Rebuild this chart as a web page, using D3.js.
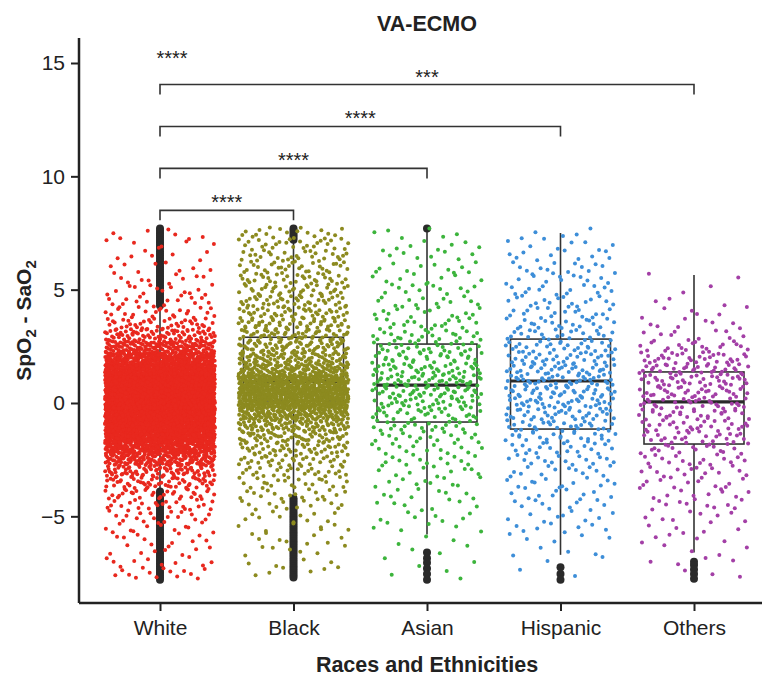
<!DOCTYPE html>
<html>
<head>
<meta charset="utf-8">
<script src="https://d3js.org/d3.v7.min.js"></script>
<style>
  body { margin: 0; background: #fff; }
  svg { font-family: "Liberation Sans", Arial, sans-serif; }
</style>
</head>
<body>
<div id="chart"></div>
<script>
// --- data ---
const categories = ['White', 'Black', 'Asian', 'Hispanic', 'Others'];
const colors = ['#e8281e', '#8c8a1f', '#3cb43c', '#3d8ed8', '#a33fa6'];

// box statistics
const q1 = [-0.84, 0.09, -0.84, -1.15, -1.81];
const medians = [0.6, 0.95, 0.79, 0.97, 0.05];
const q3 = [1.13, 2.9, 2.6, 2.82, 1.37];
const whiskerLow = [-3.8, -4.0, -5.8, -6.7, -6.6];
const whiskerHigh = [4.1, 7.1, 7.55, 7.5, 5.65];

// outliers (black dots on the box centre line)
const outliersWhite = [4.3, 4.4, 4.5, 4.6, 4.7, 4.8, 4.9, 5.0, 5.1, 5.2, 5.3, 5.4, 5.5, 5.6, 5.7, 5.8, 5.9, 6.0,
  6.1, 6.2, 6.3, 6.4, 6.5, 6.6, 6.7, 6.8, 6.9, 7.0, 7.1, 7.2, 7.3, 7.4, 7.5, 7.6, 7.7,
  -3.9, -4.0, -4.1, -4.2, -4.3, -4.4, -4.5, -4.6, -4.7, -4.8, -4.9, -5.0, -5.1, -5.2, -5.3, -5.4, -5.5,
  -5.6, -5.7, -5.8, -5.9, -6.0, -6.1, -6.2, -6.3, -6.4, -6.5, -6.6, -6.7, -6.8, -6.9, -7.0, -7.1,
  -7.2, -7.3, -7.4, -7.5, -7.6, -7.7, -7.8];
const outliersBlack = [7.2, 7.3, 7.4, 7.5, 7.6, 7.7,
  -4.2, -4.3, -4.4, -4.5, -4.6, -4.7, -4.8, -4.9, -5.0, -5.1, -5.2, -5.3, -5.4, -5.5, -5.6, -5.7,
  -5.8, -5.9, -6.0, -6.1, -6.2, -6.3, -6.4, -6.5, -6.6, -6.7, -6.8, -6.9, -7.0, -7.1, -7.2, -7.3,
  -7.4, -7.5, -7.6, -7.7];
const outliersAsian = [7.7, -6.6, -6.85, -7.05, -7.3, -7.55, -7.8];
const outliersHispanic = [-7.25, -7.55, -7.8];
const outliersOthers = [-7.0, -7.15, -7.35, -7.55, -7.75];
const outliers = [outliersWhite, outliersBlack, outliersAsian, outliersHispanic, outliersOthers];

// individual measurements, counted per 0.5-wide bin (bin centres below)
const binCenters = [-7.5, -7, -6.5, -6, -5.5, -5, -4.5, -4, -3.5, -3, -2.5, -2, -1.5, -1, -0.5,
  0, 0.5, 1, 1.5, 2, 2.5, 3, 3.5, 4, 4.5, 5, 5.5, 6, 6.5, 7, 7.5];
const countsWhite = [14, 10, 9, 10, 13, 18, 24, 34, 55, 85, 140, 220, 300, 360, 400,
  420, 420, 380, 300, 220, 130, 75, 40, 24, 16, 14, 10, 8, 7, 7, 6];
const countsBlack = [5, 5, 7, 8, 9, 10, 14, 18, 22, 28, 35, 45, 60, 90, 140,
  240, 260, 210, 120, 85, 68, 58, 50, 44, 40, 36, 33, 30, 28, 25, 20];
const countsAsian = [3, 3, 3, 3, 6, 7, 8, 9, 10, 11, 13, 15, 18, 22, 28,
  35, 42, 45, 38, 32, 28, 22, 18, 15, 12, 12, 10, 10, 8, 7, 6];
const countsHispanic = [2, 2, 4, 5, 8, 9, 10, 11, 12, 14, 16, 20, 24, 28, 32,
  36, 38, 38, 36, 32, 28, 24, 20, 18, 16, 14, 14, 12, 10, 8, 5];
const countsOthers = [3, 4, 4, 5, 6, 8, 10, 11, 12, 14, 16, 20, 24, 26, 28,
  30, 32, 35, 35, 30, 20, 10, 8, 6, 3, 2, 2, 0, 0, 0, 0];
const counts = [countsWhite, countsBlack, countsAsian, countsHispanic, countsOthers];

// significance brackets
const comparisons = [
  { from: 'White', to: 'Black', label: '****', level: 8.5 },
  { from: 'White', to: 'Asian', label: '****', level: 10.35 },
  { from: 'White', to: 'Hispanic', label: '****', level: 12.2 },
  { from: 'White', to: 'Others', label: '***', level: 14.05 }
];
const extraLabel = { at: 'White', label: '****', level: 15.35 };

const yTicks = [-5, 0, 5, 10, 15];

// --- layout ---
const W = 762, H = 678;
const axisX = 79, axisTop = 38, axisBottom = 603;

const svg = d3.select('#chart').append('svg')
  .attr('width', W).attr('height', H);

const x = d3.scalePoint().domain(categories).range([160, 694]);
const y = d3.scaleLinear().domain([-8.824, 16.103]).range([axisBottom, axisTop]);

const boxHalf = 50, jitterHalf = 55, binHalf = 0.25;

// radical inverse, used to spread the strip-plot jitter evenly (Halton 2/3)
function radInv(n, base) {
  let f = 1, r = 0;
  while (n > 0) { f /= base; r += f * (n % base); n = Math.floor(n / base); }
  return r;
}

// --- boxes ---
const boxG = svg.append('g');
categories.forEach((c, i) => {
  const cx = x(c);
  const g = boxG.append('g');
  g.append('line').attr('x1', cx).attr('x2', cx)
    .attr('y1', y(q3[i])).attr('y2', y(whiskerHigh[i]))
    .attr('stroke', '#333').attr('stroke-width', 1.6);
  g.append('line').attr('x1', cx).attr('x2', cx)
    .attr('y1', y(q1[i])).attr('y2', y(whiskerLow[i]))
    .attr('stroke', '#333').attr('stroke-width', 1.6);
  g.append('rect')
    .attr('x', cx - boxHalf).attr('width', boxHalf * 2)
    .attr('y', y(q3[i])).attr('height', y(q1[i]) - y(q3[i]))
    .attr('fill', 'none').attr('stroke', '#333').attr('stroke-width', 1.6);
  g.append('line').attr('x1', cx - boxHalf).attr('x2', cx + boxHalf)
    .attr('y1', y(medians[i])).attr('y2', y(medians[i]))
    .attr('stroke', '#2a2a2a').attr('stroke-width', 3.2);
  g.selectAll('circle.outlier').data(outliers[i]).enter()
    .append('circle').attr('class', 'outlier')
    .attr('cx', cx).attr('cy', d => y(d)).attr('r', 4)
    .attr('fill', '#2a2a2a');
});

// --- jittered points ---
const ptsG = svg.append('g');
categories.forEach((c, i) => {
  const pts = [];
  let k = 17 + i * 977;
  counts[i].forEach((n, b) => {
    for (let j = 0; j < n; j++, k++) {
      const u = radInv(k, 2);
      const v = radInv(k, 3);
      pts.push({ dx: (u * 2 - 1) * jitterHalf, val: binCenters[b] + (v - 0.5) * 2 * binHalf });
    }
  });
  ptsG.append('g').selectAll('circle').data(pts).enter()
    .append('circle')
    .attr('cx', d => x(c) + d.dx)
    .attr('cy', d => y(d.val))
    .attr('r', 2)
    .attr('fill', colors[i]);
});

// --- axes ---
const yAxis = svg.append('g')
  .attr('transform', `translate(${axisX},0)`)
  .call(d3.axisLeft(y).tickValues(yTicks).tickSize(8).tickPadding(6)
    .tickFormat(d => d < 0 ? '\u2212' + Math.abs(d) : d));
yAxis.select('.domain').attr('d', `M0,${axisTop}V${axisBottom}`);

const xAxis = svg.append('g')
  .attr('transform', `translate(0,${axisBottom})`)
  .call(d3.axisBottom(x).tickSize(8).tickPadding(9));
xAxis.select('.domain').attr('d', `M${axisX},0H${W}`);

[yAxis, xAxis].forEach(a => {
  a.select('.domain').attr('stroke', '#222').attr('stroke-width', 2.5);
  a.selectAll('.tick line').attr('stroke', '#222').attr('stroke-width', 2);
  a.selectAll('.tick text').attr('fill', '#222')
    .style('font-size', '21px').style('font-family', '"Liberation Sans", Arial, sans-serif');
});

// --- significance brackets ---
const brG = svg.append('g');
const legPx = 10;
comparisons.forEach(cmp => {
  const x1 = x(cmp.from), x2 = x(cmp.to), yy = y(cmp.level);
  brG.append('path')
    .attr('d', `M${x1},${yy + legPx}V${yy}H${x2}V${yy + legPx}`)
    .attr('fill', 'none').attr('stroke', '#333').attr('stroke-width', 1.6);
  brG.append('text')
    .attr('x', (x1 + x2) / 2).attr('y', yy - 1)
    .attr('text-anchor', 'middle')
    .style('font-size', '20px').attr('fill', '#222')
    .text(cmp.label);
});
brG.append('text')
  .attr('x', x(extraLabel.at) + 12).attr('y', y(extraLabel.level) + 10)
  .attr('text-anchor', 'middle')
  .style('font-size', '20px').attr('fill', '#222')
  .text(extraLabel.label);

// --- titles ---
svg.append('text')
  .attr('x', x('Asian')).attr('y', 31)
  .attr('text-anchor', 'middle')
  .style('font-size', '21.5px').style('font-weight', 'bold').attr('fill', '#222')
  .text('VA-ECMO');

svg.append('text')
  .attr('x', x('Asian')).attr('y', 672)
  .attr('text-anchor', 'middle')
  .style('font-size', '21.5px').style('font-weight', 'bold').attr('fill', '#222')
  .text('Races and Ethnicities');

const yl = svg.append('text')
  .attr('transform', `translate(31,${(axisTop + axisBottom) / 2}) rotate(-90)`)
  .attr('text-anchor', 'middle')
  .style('font-size', '21px').style('font-weight', 'bold').attr('fill', '#222');
yl.append('tspan').text('SpO');
yl.append('tspan').attr('dy', 5).style('font-size', '15px').text('2');
yl.append('tspan').attr('dy', -5).text(' - SaO');
yl.append('tspan').attr('dy', 5).style('font-size', '15px').text('2');
</script>
</body>
</html>
